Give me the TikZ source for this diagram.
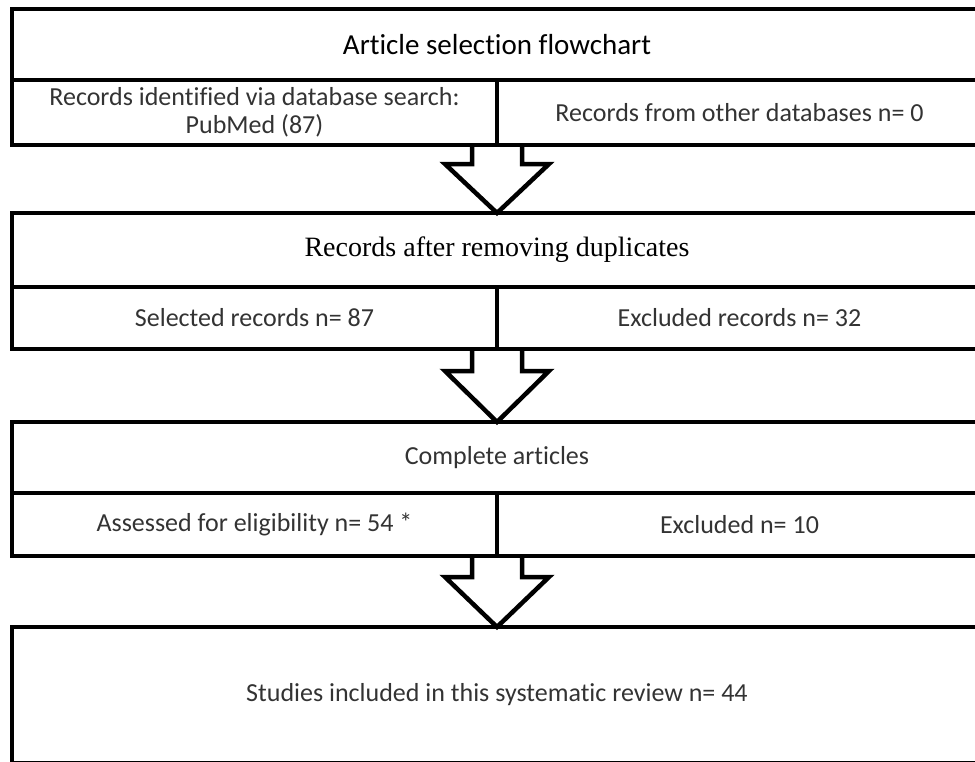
\documentclass[tikz,border=0pt]{standalone}
\usepackage{fontspec}
\setmainfont{Carlito}[Ligatures=NoCommon]
\newfontfamily\serifont{Liberation Serif}
\usetikzlibrary{positioning,calc}
\tikzset{
  box/.style={
    draw,
    line width=4.5pt,
    shape=rectangle,
    inner sep=0pt,
    outer sep=0pt,
    minimum width=485pt,
    align=center,
    text=black!80,
    font=\fontsize{26}{28}\selectfont
  },
  head/.style={
    box,
    minimum width=970pt
  },
  hollow/.style={
    line width=4.5pt,
    line join=miter
  }
}

\begin{document}
\begin{tikzpicture}[x=1pt,y=-1pt]
  \clip (0,0) rectangle (975,761);
  \node[head, minimum height=71pt, anchor=north west, text=black, font=\fontsize{29}{32}\selectfont] (title) at (12,9) {Article selection flowchart};
  \node[box, minimum height=65pt, below right=0pt and 0pt of title.south west] (lrec) {Records identified via database search:\\PubMed (87)};
  \node[box, minimum height=65pt, right=0pt of lrec] (rrec) {Records from other databases n= 0};
  \node[head, minimum height=74pt, below right=68pt and 0pt of lrec.south west, text=black, font=\serifont\fontsize{28}{31}\selectfont] (dup) {Records after removing duplicates};
  \node[box, minimum height=62pt, below right=0pt and 0pt of dup.south west] (lsel) {Selected records n= 87};
  \node[box, minimum height=62pt, right=0pt of lsel] (rsel) {Excluded records n= 32};
  \node[head, minimum height=71pt, below right=73pt and 0pt of lsel.south west] (full) {Complete articles};
  \node[box, minimum height=63pt, below right=0pt and 0pt of full.south west] (lelig) {Assessed for eligibility n= 54 *};
  \node[box, minimum height=63pt, right=0pt of lelig] (relig) {Excluded n= 10};
  \node[head, minimum height=136pt, below right=71pt and 0pt of lelig.south west] (incl) {Studies included in this systematic review n= 44};
  % block arrows
  \draw[hollow] ($(lrec.south east)+(-25,0)$) -- ++(0,19) -- ++(-27,0) -- (lrec.south east |- dup.north) -- ($(lrec.south east)+(52,19)$) -- ++(-27,0) -- ++(0,-19);
  \draw[hollow] ($(lsel.south east)+(-25,0)$) -- ++(0,22) -- ++(-27,0) -- (lsel.south east |- full.north) -- ($(lsel.south east)+(52,22)$) -- ++(-27,0) -- ++(0,-22);
  \draw[hollow] ($(lelig.south east)+(-25,0)$) -- ++(0,21) -- ++(-27,0) -- (lelig.south east |- incl.north) -- ($(lelig.south east)+(52,21)$) -- ++(-27,0) -- ++(0,-21);
\end{tikzpicture}
\end{document}
